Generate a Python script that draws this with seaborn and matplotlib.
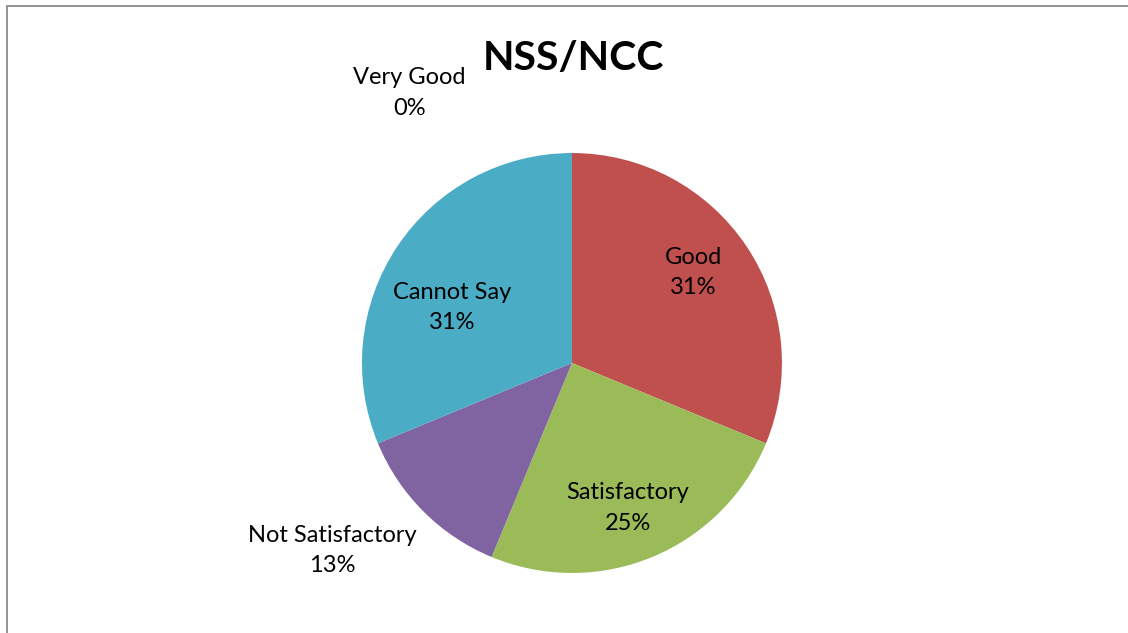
import numpy as np
import matplotlib
matplotlib.use('Agg')
import matplotlib.pyplot as plt
import seaborn as sns

sns.set_theme(style='white')
plt.rcParams['font.family'] = ['Lato', 'DejaVu Sans']

# ---- data ----
categories = ['Very Good', 'Good', 'Satisfactory', 'Not Satisfactory', 'Cannot Say']
counts = [0, 5, 4, 2, 5]
pct_labels = ['0%', '31%', '25%', '13%', '31%']
colors = ['#4F81BD', '#C0504D', '#9BBB59', '#8064A2', '#4BACC6']

# label placement (radius as fraction of pie radius, angle shift in degrees)
label_r = [1.50, 0.72, 0.74, 1.45, 0.63]
label_shift = [31.0, 3.0, -1.5, -7.0, 9.0]

fig = plt.figure(figsize=(11.28, 6.33), dpi=100)
ax = fig.add_axes([0.3209, 0.0948, 0.3723, 0.6635])

wedges, _ = ax.pie(counts, startangle=90, counterclock=False, colors=colors,
                   wedgeprops={'linewidth': 0})
ax.set_xlim(-1, 1)
ax.set_ylim(-1, 1)
ax.set_aspect('equal')

for w, cat, pct, r, sh in zip(wedges, categories, pct_labels, label_r, label_shift):
    mid = np.deg2rad((w.theta1 + w.theta2) / 2 + sh)
    ax.text(r * np.cos(mid), r * np.sin(mid), f'{cat}\n{pct}', ha='center', va='center',
            fontsize=17, color='black', linespacing=1.55, clip_on=False)

fig.text(0.508, 0.908, 'NSS/NCC', ha='center', va='center', fontsize=29.5,
         fontweight='bold', color='black')

# outer chart border
fig.add_artist(plt.Line2D([0.0066, 0.0066], [0.0, 0.9905], transform=fig.transFigure,
                          color='#8c8c8c', linewidth=1.3))
fig.add_artist(plt.Line2D([0.0066, 1.0], [0.9905, 0.9905], transform=fig.transFigure,
                          color='#8c8c8c', linewidth=1.3))

fig.savefig('out.png', dpi=100, facecolor='white')
